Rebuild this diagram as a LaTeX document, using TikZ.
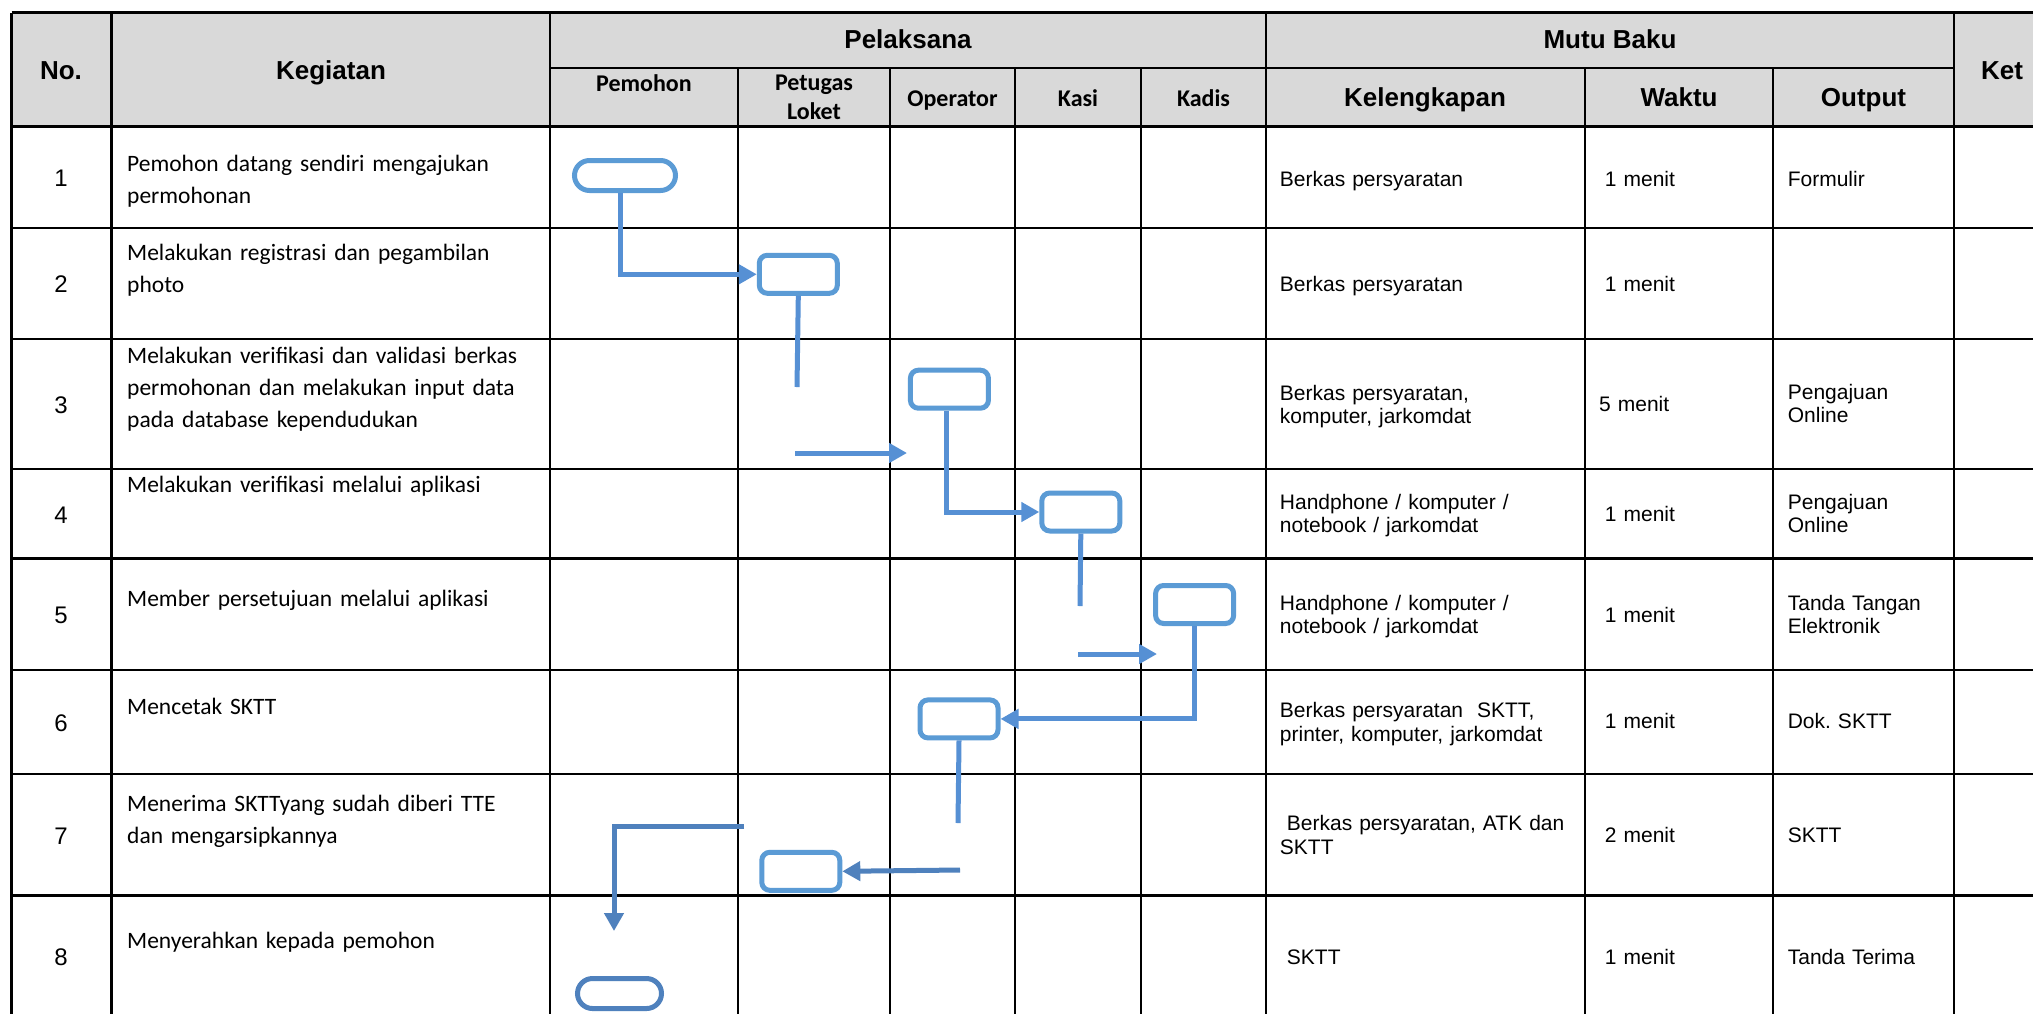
\documentclass[tikz,border=0pt]{standalone}
\usepackage{fontspec}
\setmainfont{Carlito}
\newfontfamily\arialfont{Liberation Sans}
\usetikzlibrary{arrows.meta}

\definecolor{kotakbiru}{HTML}{5B9BD5}
\definecolor{garisbiru}{HTML}{5690D4}
\definecolor{birutua}{HTML}{4F81BD}
\definecolor{abukepala}{HTML}{D9D9D9}

\tikzset{
  garis/.style={black, line width=2.6pt},
  garistipis/.style={black, line width=2pt},
  aksi/.style={draw=kotakbiru, line width=5pt, rounded corners=8pt, minimum width=78pt, minimum height=38pt, inner sep=0pt},
  terminal/.style={aksi, rounded corners=15pt, minimum width=101pt, minimum height=30pt},
  alur/.style={garisbiru, line width=5pt},
  panah/.style={alur, -{Triangle[length=18pt, width=19pt]}},
  judul/.style={font=\arialfont\bfseries\fontsize{26}{30}\selectfont, anchor=base, inner sep=0pt},
  subjudul/.style={font=\bfseries\fontsize{24}{28.7}\selectfont, anchor=base, inner sep=0pt, text width=140pt, align=center},
  kegiatan/.style={font=\fontsize{23.5}{32}\selectfont, anchor=base west, inner sep=0pt, text width=420pt, align=left},
  mutu/.style={font=\arialfont\fontsize{21}{23.7}\selectfont, anchor=base west, inner sep=0pt, text width=300pt, align=left},
  nomor/.style={font=\arialfont\fontsize{24}{28}\selectfont, inner sep=0pt},
}

\begin{document}
\begin{tikzpicture}[x=1pt, y=-1pt]
    \useasboundingbox (0,0) rectangle (2033,1013);
    \fill[white] (0,0) rectangle (2033,1013);
    \clip (0,0) rectangle (2033,1013);

    % Header background and table lines
    \fill[abukepala] (11.5,12.5) rectangle (2060,126.5);
    \foreach \y in {12.5,126.5,228,339,469,558.5,670,774,895.5}
        \draw[garis] (11.5,\y) -- (2060,\y);
    \draw[garis] (550,68) -- (1954,68);
    \foreach \x in {11.5,111.6,550,1266,1954,2050}
        \draw[garis] (\x,12.5) -- (\x,1030);
    \foreach \x in {738,890,1015,1141,1585,1773}
        \draw[garistipis] (\x,68) -- (\x,1030);

    % Header texts
    \node[judul] (hno) at (61,79.3) {No.};
    \node[judul] (hkegiatan) at (331,79.3) {Kegiatan};
    \node[judul] (hpelaksana) at (908,48.3) {Pelaksana};
    \node[judul] (hmutu) at (1610,48.3) {Mutu Baku};
    \node[judul] (hket) at (2002,79.3) {Ket};
    \node[subjudul] (hpemohon) at (644,91.7) {Pemohon};
    \node[subjudul] (hpetugas) at (814,90.7) {Petugas\\Loket};
    \node[subjudul] (hoperator) at (952.5,106) {Operator};
    \node[subjudul] (hkasi) at (1078,106) {Kasi};
    \node[subjudul] (hkadis) at (1203.5,106) {Kadis};
    \node[judul] (hlengkap) at (1425,106) {Kelengkapan};
    \node[judul] (hwaktu) at (1679,106) {Waktu};
    \node[judul] (houtput) at (1863.5,106) {Output};

    % Row numbers
    \foreach \n/\y in {1/178.3,2/284.5,3/405,4/514.8,5/615.3,6/723,7/835.8,8/957}
        \node[nomor] (no\n) at (61,\y) {\n};

    % Kegiatan
    \node[kegiatan] (keg1) at (127,171.7) {Pemohon datang sendiri mengajukan\\permohonan};
    \node[kegiatan] (keg2) at (127,260) {Melakukan registrasi dan pegambilan\\photo};
    \node[kegiatan] (keg3) at (127,363) {Melakukan verifikasi dan validasi berkas\\permohonan dan melakukan input data\\pada database kependudukan};
    \node[kegiatan] (keg4) at (127,492.3) {Melakukan verifikasi melalui aplikasi};
    \node[kegiatan] (keg5) at (127,606.7) {Member persetujuan melalui aplikasi};
    \node[kegiatan] (keg6) at (127,714.3) {Mencetak SKTT};
    \node[kegiatan] (keg7) at (127,811.7) {Menerima SKTTyang sudah diberi TTE\\dan mengarsipkannya};
    \node[kegiatan] (keg8) at (127,948.3) {Menyerahkan kepada pemohon};

    % Mutu baku: kelengkapan, waktu, output
    \node[mutu] (lengkap1) at (1279.7,186) {Berkas persyaratan};
    \node[mutu] (waktu1) at (1604.7,186) {1 menit};
    \node[mutu] (output1) at (1787.6,186) {Formulir};
    \node[mutu] (lengkap2) at (1279.7,291) {Berkas persyaratan};
    \node[mutu] (waktu2) at (1604.7,291) {1 menit};
    \node[mutu] (lengkap3) at (1279.7,400) {Berkas persyaratan,\\komputer, jarkomdat};
    \node[mutu] (waktu3) at (1599,411.7) {5 menit};
    \node[mutu] (output3) at (1787.6,399) {Pengajuan\\Online};
    \node[mutu] (lengkap4) at (1279.7,509) {Handphone / komputer /\\notebook / jarkomdat};
    \node[mutu] (waktu4) at (1604.7,521) {1 menit};
    \node[mutu] (output4) at (1787.6,509) {Pengajuan\\Online};
    \node[mutu] (lengkap5) at (1279.7,610) {Handphone / komputer /\\notebook / jarkomdat};
    \node[mutu] (waktu5) at (1604.7,622) {1 menit};
    \node[mutu] (output5) at (1787.6,610) {Tanda Tangan\\Elektronik};
    \node[mutu] (lengkap6) at (1279.7,717.3) {Berkas persyaratan\ \ SKTT,\\printer, komputer, jarkomdat};
    \node[mutu] (waktu6) at (1604.7,728.3) {1 menit};
    \node[mutu] (output6) at (1787.6,728.3) {Dok.\ SKTT};
    \node[mutu] (lengkap7) at (1279.7,830.7) {\ Berkas persyaratan, ATK dan\\SKTT};
    \node[mutu] (waktu7) at (1604.7,842.7) {2 menit};
    \node[mutu] (output7) at (1787.6,842.7) {SKTT};
    \node[mutu] (lengkap8) at (1279.7,964) {\ SKTT};
    \node[mutu] (waktu8) at (1604.7,964) {1 menit};
    \node[mutu] (output8) at (1787.6,964) {Tanda Terima};

    % Flow shapes
    \node[terminal] (mulai) at (625,175.5) {};
    \node[aksi] (daftar) at (798.3,274.3) {};
    \node[aksi] (verif) at (949.4,389.2) {};
    \node[aksi] (aplikasi) at (1080.8,512) {};
    \node[aksi] (setuju) at (1194.6,604.5) {};
    \node[aksi] (cetak) at (959,718.9) {};
    \node[aksi] (terima) at (800.8,871.3) {};
    \node[terminal, draw=birutua, minimum width=84pt] (selesai) at (619.5,993.5) {};

    % Loose ends of the flow
    \coordinate (ujung2) at (797,387);
    \coordinate (pangkal3) at (795,453);
    \coordinate (ujung3) at (907,453);
    \coordinate (ujung4) at (1080,606);
    \coordinate (pangkal5) at (1078,654);
    \coordinate (ujung5) at (1157,654);
    \coordinate (ujung6) at (958,823);
    \coordinate (pangkal7) at (960,870);
    \coordinate (pangkal8) at (744,826);
    \coordinate (ujung8) at (614,931);

    % Connectors
    \draw[panah] ([xshift=-5pt]mulai.south) |- (daftar.west);
    \draw[alur] (daftar.south) -- (ujung2);
    \draw[panah] (pangkal3) -- (ujung3);
    \draw[panah] ([xshift=-3pt]verif.south) |- (aplikasi.west);
    \draw[alur] (aplikasi.south) -- (ujung4);
    \draw[panah] (pangkal5) -- (ujung5);
    \draw[panah] (setuju.south) |- (cetak.east);
    \draw[alur] (cetak.south) -- (ujung6);
    \draw[panah, birutua] (pangkal7) -- (terima.east);
    \draw[panah, birutua] (pangkal8) -| (ujung8);
\end{tikzpicture}
\end{document}
